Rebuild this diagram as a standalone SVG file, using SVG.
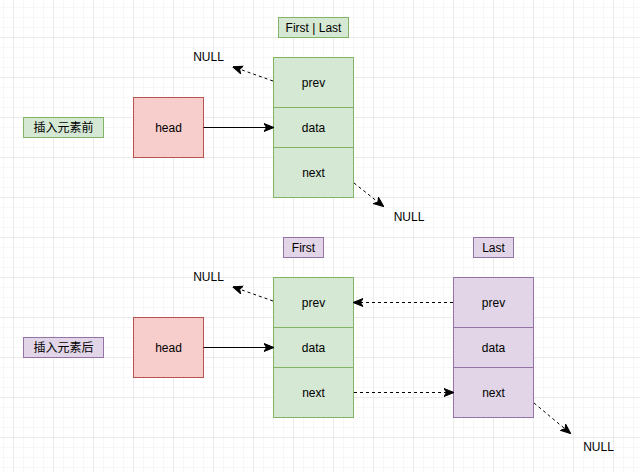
<svg xmlns="http://www.w3.org/2000/svg" width="640" height="472" viewBox="0 0 640 472">
<defs>
<pattern id="minor" x="3" y="7" width="10" height="10" patternUnits="userSpaceOnUse">
<path d="M0 0H10M0 0V10" fill="none" stroke="#f0f0f0" stroke-width="1"/>
</pattern>
<pattern id="major" x="13" y="37" width="40" height="40" patternUnits="userSpaceOnUse">
<path d="M0 0H40M0 0V40" fill="none" stroke="#e0e0e0" stroke-width="1"/>
</pattern>
<marker id="arr" viewBox="0 0 10 10" refX="9" refY="5" markerWidth="10" markerHeight="10" markerUnits="userSpaceOnUse" orient="auto">
<path d="M0 1L10 5L0 9L2.5 5Z" fill="#000" stroke="#000" stroke-width="1"/>
</marker>
</defs>
<style>
text{font-family:"Liberation Sans",Arial,sans-serif;font-size:12px;fill:#000;text-anchor:middle;dominant-baseline:central}
.g{fill:#d5e8d4;stroke:#82b366}
.r{fill:#f8cecc;stroke:#b85450}
.p{fill:#e1d5e7;stroke:#9673a6}
.c{fill:none;stroke:#000;stroke-width:1;marker-end:url(#arr)}
.d{stroke-dasharray:3 3}
</style>
<rect width="640" height="472" fill="#fff"/>
<rect width="640" height="472" fill="url(#minor)"/>
<rect width="640" height="472" fill="url(#major)"/>

<g id="label-top">
<rect class="g" x="278.5" y="17.5" width="70" height="20"/>
<text x="313.5" y="27.5">First | Last</text>
</g>
<g id="label-before">
<rect class="g" x="23.5" y="117.5" width="80" height="20"/>
<text x="63.5" y="127.5" style="font-family:'Liberation Sans','Noto Sans CJK SC',sans-serif">插入元素前</text>
</g>
<g id="head-top">
<rect class="r" x="133.5" y="97.5" width="70" height="60"/>
<text x="168.5" y="127.5">head</text>
</g>
<g id="node-top">
<rect class="g" x="273.5" y="57.5" width="80" height="50"/>
<text x="313.5" y="82.5">prev</text>
<rect class="g" x="273.5" y="107.5" width="80" height="40"/>
<text x="313.5" y="127.5">data</text>
<rect class="g" x="273.5" y="147.5" width="80" height="50"/>
<text x="313.5" y="172.5">next</text>
</g>
<g id="null-top-1"><text x="208.5" y="56.5">NULL</text></g>
<g id="null-top-2"><text x="409" y="216.5">NULL</text></g>

<g id="label-first">
<rect class="p" x="283.5" y="237.5" width="40" height="20"/>
<text x="303.5" y="247.5">First</text>
</g>
<g id="label-last">
<rect class="p" x="473.5" y="237.5" width="40" height="20"/>
<text x="493.5" y="247.5">Last</text>
</g>
<g id="label-after">
<rect class="p" x="23.5" y="337.5" width="80" height="20"/>
<text x="63.5" y="347.5" style="font-family:'Liberation Sans','Noto Sans CJK SC',sans-serif">插入元素后</text>
</g>
<g id="head-bottom">
<rect class="r" x="133.5" y="317.5" width="70" height="60"/>
<text x="168.5" y="347.5">head</text>
</g>
<g id="node-first">
<rect class="g" x="273.5" y="277.5" width="80" height="50"/>
<text x="313.5" y="302.5">prev</text>
<rect class="g" x="273.5" y="327.5" width="80" height="40"/>
<text x="313.5" y="347.5">data</text>
<rect class="g" x="273.5" y="367.5" width="80" height="50"/>
<text x="313.5" y="392.5">next</text>
</g>
<g id="node-last">
<rect class="p" x="453.5" y="277.5" width="80" height="50"/>
<text x="493.5" y="302.5">prev</text>
<rect class="p" x="453.5" y="327.5" width="80" height="40"/>
<text x="493.5" y="347.5">data</text>
<rect class="p" x="453.5" y="367.5" width="80" height="50"/>
<text x="493.5" y="392.5">next</text>
</g>
<g id="null-bottom-1"><text x="208.5" y="276.5">NULL</text></g>
<g id="null-bottom-2"><text x="598.5" y="446.5">NULL</text></g>

<g id="connectors">
<path class="c" d="M203.5 127.5H273"/>
<path class="c d" d="M273 81L233.5 67"/>
<path class="c d" d="M354 183L383 206"/>
<path class="c" d="M203.5 347.5H273"/>
<path class="c d" d="M273 301L233.5 287"/>
<path class="c d" d="M453 302.5H354"/>
<path class="c d" d="M354 392.5H453"/>
<path class="c d" d="M534 403L570 433"/>
</g>
</svg>
